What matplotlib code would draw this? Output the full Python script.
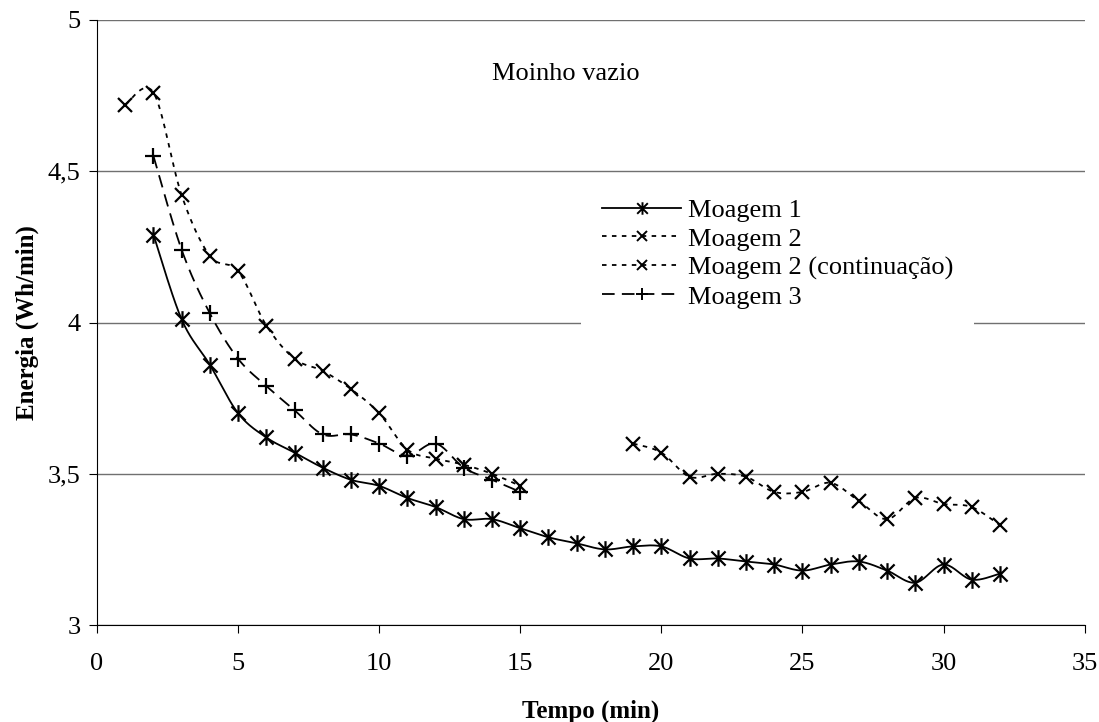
import numpy as np
import matplotlib.pyplot as plt
from matplotlib.path import Path
from matplotlib.ticker import FuncFormatter

plt.rcParams['font.family'] = ['Liberation Serif', 'DejaVu Serif']

# Energia por minuto de moagem
t1 = list(range(2, 33))
moagem1 = [4.29, 4.01, 3.86, 3.70, 3.62, 3.57, 3.52, 3.48, 3.46, 3.42, 3.39,
           3.35, 3.35, 3.32, 3.29, 3.27, 3.25, 3.26, 3.26, 3.22, 3.22, 3.21,
           3.20, 3.18, 3.20, 3.21, 3.18, 3.14, 3.20, 3.15, 3.17]

t2 = list(range(1, 16))
moagem2 = [4.72, 4.76, 4.42, 4.22, 4.17, 3.99, 3.88, 3.84, 3.78, 3.70, 3.58,
           3.55, 3.53, 3.50, 3.46]

t2c = list(range(19, 33))
moagem2c = [3.60, 3.57, 3.49, 3.50, 3.49, 3.44, 3.44, 3.47, 3.41, 3.35, 3.42,
            3.40, 3.39, 3.33]

t3 = list(range(2, 16))
moagem3 = [4.55, 4.24, 4.03, 3.88, 3.79, 3.71, 3.63, 3.63, 3.60, 3.56, 3.60,
           3.52, 3.48, 3.44]


def suavizar(x, y, n=20):
    # curva Catmull-Rom passando pelos pontos
    x = np.asarray(x, float)
    y = np.asarray(y, float)
    px = np.concatenate([[x[0]], x, [x[-1]]])
    py = np.concatenate([[y[0]], y, [y[-1]]])
    xs, ys = [], []
    s = np.linspace(0, 1, n, endpoint=False)
    for i in range(1, len(px) - 2):
        for p, out in ((px, xs), (py, ys)):
            p0, p1, p2, p3 = p[i - 1], p[i], p[i + 1], p[i + 2]
            out.extend(0.5 * (2 * p1 + (-p0 + p2) * s
                              + (2 * p0 - 5 * p1 + 4 * p2 - p3) * s ** 2
                              + (-p0 + 3 * p1 - 3 * p2 + p3) * s ** 3))
    xs.append(x[-1])
    ys.append(y[-1])
    return xs, ys


# asterisco: x com traço vertical
asterisco = Path([(-0.85, -0.85), (0.85, 0.85), (-0.85, 0.85), (0.85, -0.85),
                  (0, -1), (0, 1)],
                 [Path.MOVETO, Path.LINETO, Path.MOVETO, Path.LINETO,
                  Path.MOVETO, Path.LINETO])

fig = plt.figure(figsize=(10.99, 7.22), dpi=100)
ax = fig.add_axes([0.0883, 0.1343, 0.8986, 0.838])

series = [
    (t1, moagem1, 'Moagem 1', asterisco, '-', 12),
    (t2, moagem2, 'Moagem 2', 'x', (0, (2.5, 3)), 10),
    (t2c, moagem2c, 'Moagem 2 (continuação)', 'x', (0, (2.5, 3)), 10),
    (t3, moagem3, 'Moagem 3', '+', (0, (7, 4)), 12),
]

handles = []
for x, y, nome, mk, ls, ms in series:
    xs, ys = suavizar(x, y)
    ax.plot(xs, ys, color='black', lw=1.3, linestyle=ls)
    ax.plot(x, y, linestyle='none', marker=mk, ms=ms, mew=1.6,
            color='black')
    h, = ax.plot([], [], color='black', lw=1.3, marker=mk, ms=ms * 0.75,
                 mew=1.4, label=nome, linestyle=ls)
    handles.append(h)

ax.set_xlim(0, 35)
ax.set_ylim(3, 5)
ax.set_xticks(range(0, 36, 5))
ax.set_yticks([3, 3.5, 4, 4.5, 5])
ax.yaxis.set_major_formatter(FuncFormatter(lambda v, p: f'{v:g}'.replace('.', ',')))
ax.tick_params(labelsize=19, direction='out', length=6, width=0.8)
ax.tick_params(axis='x', pad=14)
ax.tick_params(axis='y', pad=6)
ax.yaxis.grid(True, color='#707070', lw=1.0)
ax.set_axisbelow(True)
for s in ('top', 'right'):
    ax.spines[s].set_visible(False)

ax.set_xlabel('Tempo (min)', fontsize=18, fontweight='bold', labelpad=18)
ax.set_ylabel('Energia (Wh/min)', fontsize=18, fontweight='bold', labelpad=6)

ax.text(14.0, 4.82, 'Moinho vazio', fontsize=19, ha='left', va='center')

leg = ax.legend(handles=handles, loc='upper left', bbox_to_anchor=(0.49, 0.74),
                frameon=True, fontsize=19, handlelength=3.0, handletextpad=0.25,
                labelspacing=0.2, borderpad=0.8, borderaxespad=0)
leg.get_frame().set_edgecolor('none')
leg.get_frame().set_facecolor('white')
leg.get_frame().set_alpha(1)

fig.savefig('out.png', dpi=100)
